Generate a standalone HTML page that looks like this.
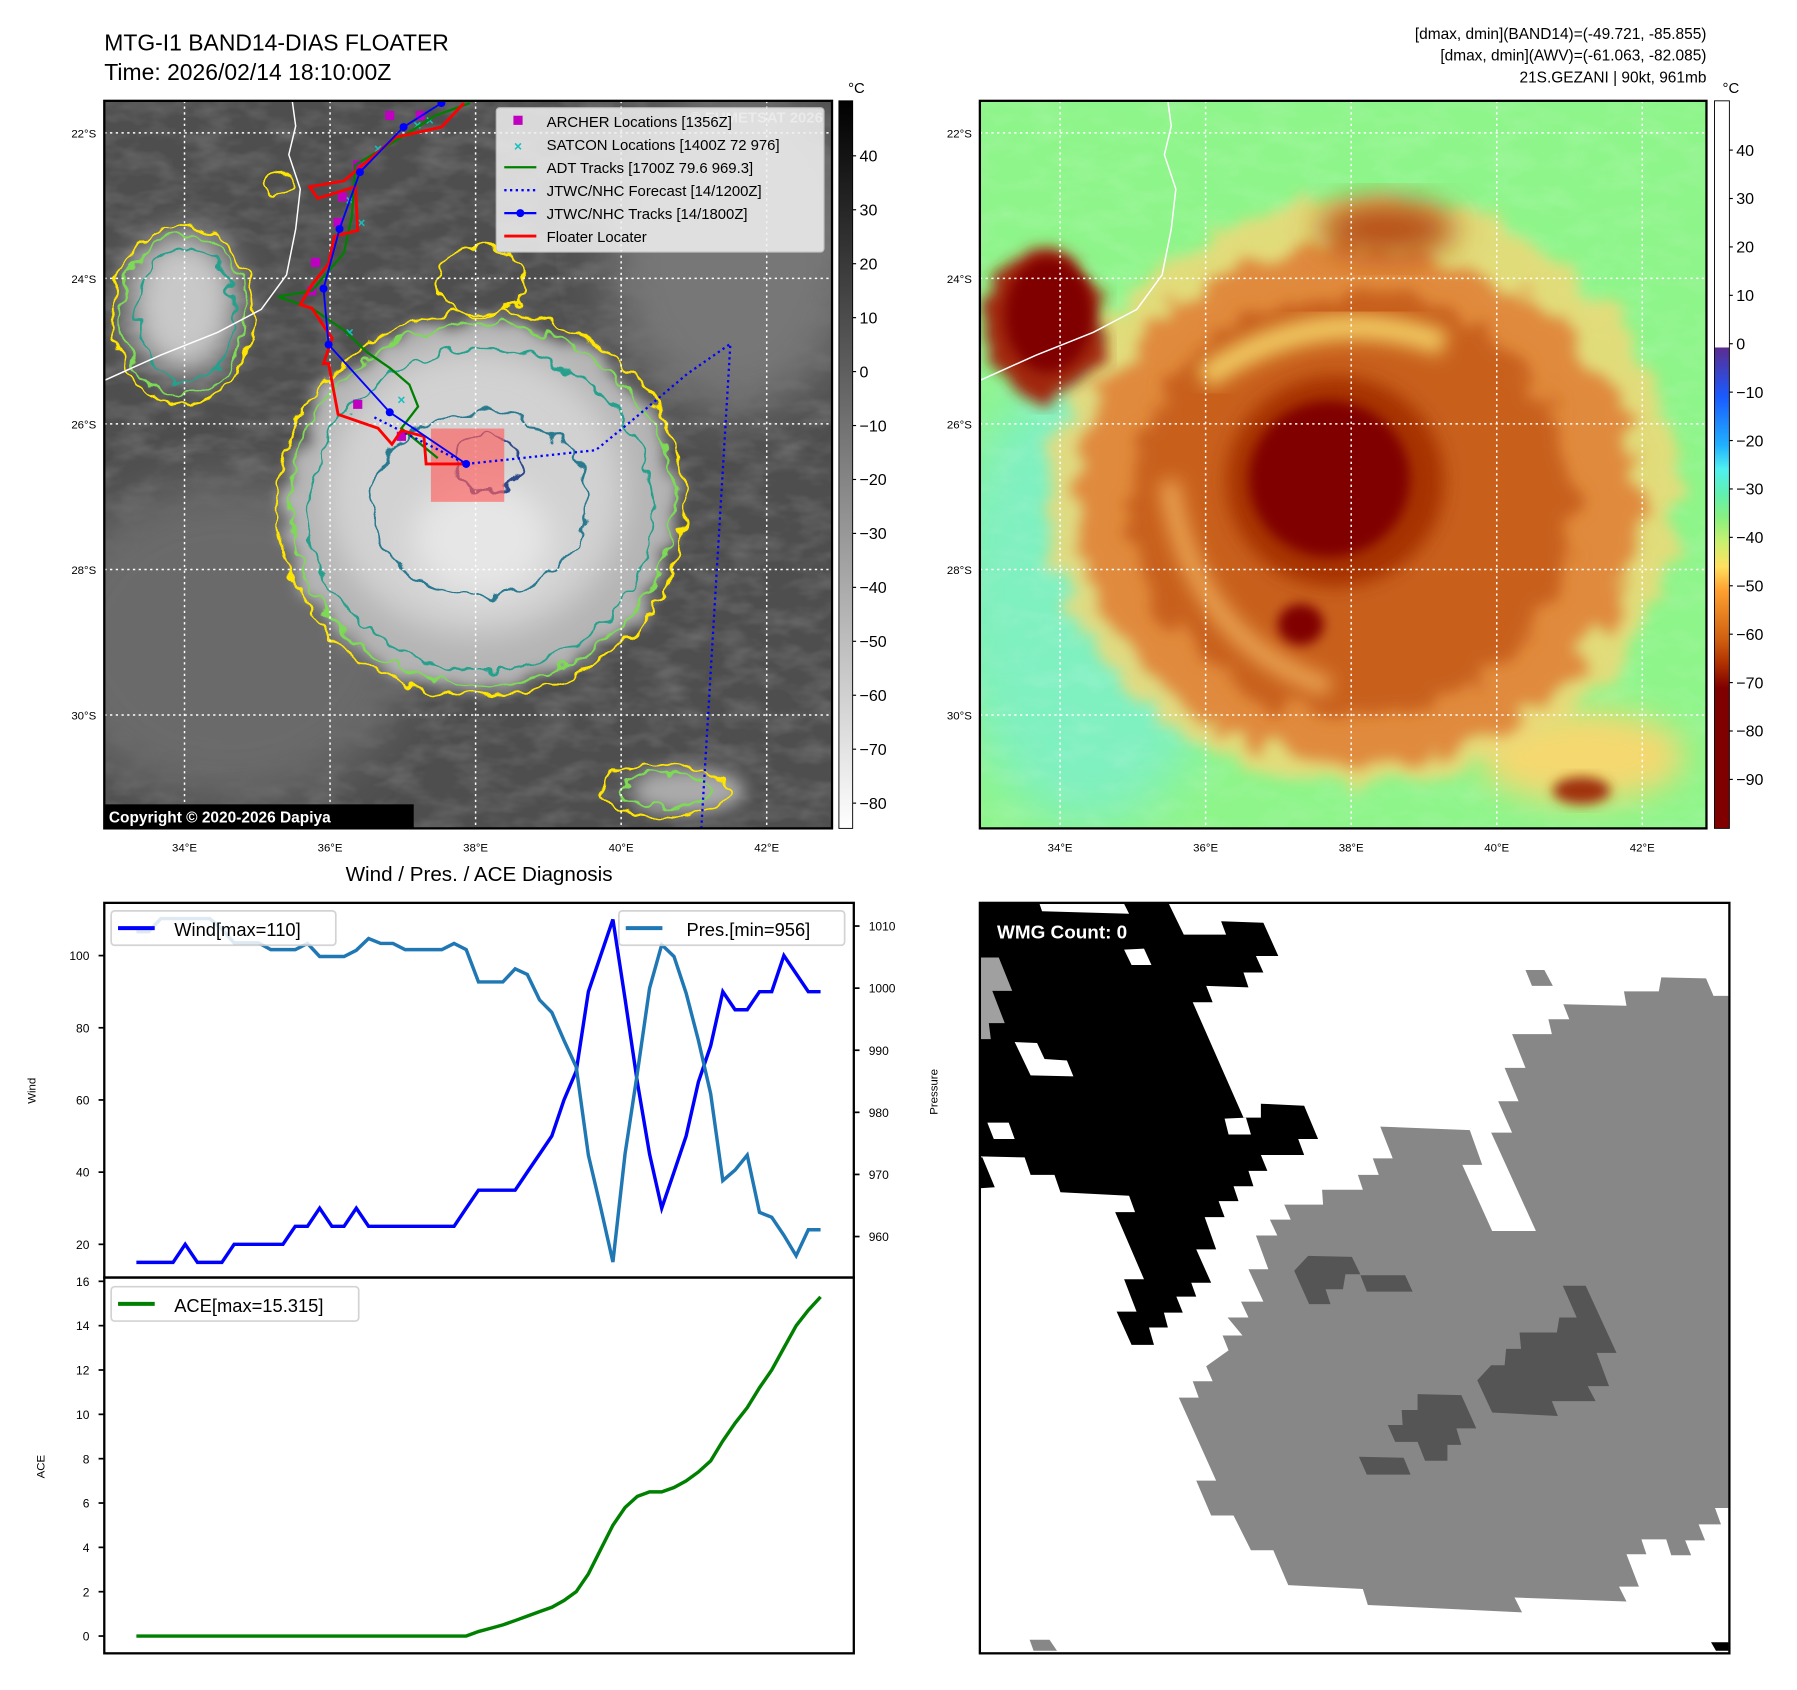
<!DOCTYPE html>
<html><head><meta charset="utf-8"><title>MTG-I1 BAND14 floater, Gezani</title>
<style>
html,body{margin:0;padding:0;background:#fff;}
svg{display:block;font-family:"Liberation Sans","DejaVu Sans",sans-serif;}
</style></head>
<body>
<svg id="root" width="1797" height="1690" viewBox="0 0 1568 1475" preserveAspectRatio="none" xmlns="http://www.w3.org/2000/svg">
<defs>
  <filter id="blur5" x="-30%" y="-30%" width="160%" height="160%"><feGaussianBlur stdDeviation="5"/></filter>
  <filter id="blur8" x="-30%" y="-30%" width="160%" height="160%"><feGaussianBlur stdDeviation="8"/></filter>
  <filter id="blur14" x="-30%" y="-30%" width="160%" height="160%"><feGaussianBlur stdDeviation="14"/></filter>
  <filter id="blur22" x="-40%" y="-40%" width="180%" height="180%"><feGaussianBlur stdDeviation="22"/></filter>
  <filter id="wobble" x="-10%" y="-10%" width="120%" height="120%">
    <feTurbulence type="fractalNoise" baseFrequency="0.06" numOctaves="2" seed="3" result="n"/>
    <feDisplacementMap in="SourceGraphic" in2="n" scale="18" xChannelSelector="R" yChannelSelector="G"/>
  </filter>
  <filter id="rough" x="-10%" y="-10%" width="120%" height="120%">
    <feTurbulence type="fractalNoise" baseFrequency="0.04" numOctaves="3" seed="11" result="n"/>
    <feDisplacementMap in="SourceGraphic" in2="n" scale="40" xChannelSelector="R" yChannelSelector="G" result="d"/>
    <feGaussianBlur in="d" stdDeviation="6"/>
  </filter>
  <filter id="tex" x="0" y="0" width="100%" height="100%">
    <feTurbulence type="fractalNoise" baseFrequency="0.03 0.06" numOctaves="3" seed="7"/>
    <feColorMatrix type="matrix" values="0 0 0 0 1  0 0 0 0 1  0 0 0 0 1  0.9 0 0 0 -0.35"/>
  </filter>
  <linearGradient id="cbGray" x1="0" y1="0" x2="0" y2="1">
    <stop offset="0" stop-color="#000"/><stop offset="1" stop-color="#fff"/>
  </linearGradient>
  <linearGradient id="cbJet" x1="0" y1="0" x2="0" y2="1">
    <stop offset="0" stop-color="#fff"/><stop offset="0.338" stop-color="#fff"/>
    <stop offset="0.34" stop-color="#5a2d91"/><stop offset="0.406" stop-color="#1a5aff"/>
    <stop offset="0.473" stop-color="#20b0ff"/><stop offset="0.506" stop-color="#50f0f0"/>
    <stop offset="0.54" stop-color="#60f0b0"/><stop offset="0.573" stop-color="#88f080"/>
    <stop offset="0.606" stop-color="#c8f070"/><stop offset="0.64" stop-color="#ffe060"/>
    <stop offset="0.673" stop-color="#ffa030"/><stop offset="0.74" stop-color="#d06010"/>
    <stop offset="0.773" stop-color="#b03000"/><stop offset="0.807" stop-color="#800000"/>
    <stop offset="1" stop-color="#800000"/>
  </linearGradient>
  <clipPath id="clipL"><rect x="91" y="88" width="635" height="635"/></clipPath>
  <clipPath id="clipR"><rect x="855" y="88" width="634" height="635"/></clipPath>
</defs>

<!-- Titles -->
<text x="91" y="44" font-size="20">MTG-I1 BAND14-DIAS FLOATER</text>
<text x="91" y="70" font-size="20">Time: 2026/02/14 18:10:00Z</text>
<g font-size="13.5" text-anchor="end">
  <text x="1489" y="34">[dmax, dmin](BAND14)=(-49.721, -85.855)</text>
  <text x="1489" y="53">[dmax, dmin](AWV)=(-61.063, -82.085)</text>
  <text x="1489" y="72">21S.GEZANI | 90kt, 961mb</text>
</g>

<!-- LEFT MAP -->
<g id="mapL">
  <g clip-path="url(#clipL)">
    <rect x="91" y="88" width="635" height="635" fill="#4e4e4e"/>
    <rect x="91" y="88" width="635" height="635" filter="url(#tex)" opacity="0.35"/>
    <ellipse cx="200" cy="560" rx="160" ry="140" fill="#6a6a6a" filter="url(#blur22)"/>
    <ellipse cx="640" cy="220" rx="110" ry="140" fill="#777" filter="url(#blur22)"/>
    <ellipse cx="420" cy="440" rx="170" ry="160" fill="#b4b4b4" filter="url(#rough)"/>
    <ellipse cx="415" cy="430" rx="130" ry="125" fill="#d2d2d2" filter="url(#blur14)"/>
    <ellipse cx="420" cy="470" rx="60" ry="50" fill="#e6e6e6" filter="url(#blur14)"/>
    <ellipse cx="160" cy="265" rx="48" ry="62" fill="#c8c8c8" filter="url(#blur14)"/>
    <ellipse cx="600" cy="690" rx="50" ry="20" fill="#aaa" filter="url(#blur8)"/>
    <g fill="none" stroke-width="2" filter="url(#wobble)">
      <ellipse cx="420" cy="440" rx="178" ry="168" stroke="#ffe600"/>
      <ellipse cx="420" cy="440" rx="168" ry="158" stroke="#7ed957"/>
      <ellipse cx="420" cy="445" rx="150" ry="140" stroke="#25a08c"/>
      <ellipse cx="418" cy="440" rx="95" ry="80" stroke="#2a7a8f"/>
      <ellipse cx="425" cy="405" rx="28" ry="26" stroke="#2e4a8a"/>
      <ellipse cx="160" cy="275" rx="62" ry="78" stroke="#ffe600"/>
      <ellipse cx="160" cy="275" rx="55" ry="70" stroke="#7ed957"/>
      <ellipse cx="162" cy="275" rx="42" ry="58" stroke="#25a08c"/>
      <ellipse cx="420" cy="245" rx="40" ry="30" stroke="#ffe600"/>
      <ellipse cx="580" cy="690" rx="55" ry="22" stroke="#ffe600"/>
      <ellipse cx="580" cy="690" rx="40" ry="14" stroke="#7ed957"/>
      <ellipse cx="244" cy="160" rx="12" ry="10" stroke="#ffe600"/>
    </g>
    <path d="M255,88 L258,110 L252,135 L262,165 L258,200 L250,240 L228,270 L190,290 L140,310 L91,332" fill="none" stroke="#fff" stroke-width="1.3"/>
    <g id="gridL"></g>
    <rect x="376" y="374" width="64" height="64" fill="#ff6060" opacity="0.65"/>
    <g id="tracks"></g>
    <text x="718" y="107" font-size="13" font-weight="bold" fill="#fff" opacity="0.6" text-anchor="end">© EUMETSAT 2026</text>
    <rect x="91" y="702" width="270" height="21" fill="#000"/>
    <text x="95" y="718" font-size="13.5" font-weight="bold" fill="#fff">Copyright © 2020-2026 Dapiya</text>
  </g>
  <rect x="91" y="88" width="635" height="635" fill="none" stroke="#000" stroke-width="2"/>
  <g>
    <rect x="433" y="94" width="286" height="126" fill="#f2f2f2" opacity="0.85" stroke="#ccc" rx="3"/>
    <g font-size="13">
      <rect x="448" y="101" width="8" height="8" fill="#c000c0"/><text x="477" y="111">ARCHER Locations [1356Z]</text>
      <text x="452" y="132" fill="#17bfbf" font-weight="bold" text-anchor="middle" font-size="12">×</text><text x="477" y="131">SATCON Locations [1400Z 72 976]</text>
      <line x1="440" y1="146" x2="468" y2="146" stroke="green" stroke-width="2"/><text x="477" y="151">ADT Tracks [1700Z 79.6 969.3]</text>
      <line x1="440" y1="166" x2="468" y2="166" stroke="blue" stroke-width="2" stroke-dasharray="2,3"/><text x="477" y="171">JTWC/NHC Forecast [14/1200Z]</text>
      <line x1="440" y1="186" x2="468" y2="186" stroke="blue" stroke-width="2"/><circle cx="454" cy="186" r="3.5" fill="blue"/><text x="477" y="191">JTWC/NHC Tracks [14/1800Z]</text>
      <line x1="440" y1="206" x2="468" y2="206" stroke="red" stroke-width="2.5"/><text x="477" y="211">Floater Locater</text>
    </g>
  </g>
  <g id="labelsL" font-size="10"></g>
  <rect x="732" y="88" width="12" height="635" fill="url(#cbGray)" stroke="#000" stroke-width="0.8"/>
  <text x="740" y="81" font-size="13">°C</text>
  <g id="cbTicksL" font-size="14"></g>
</g>

<!-- RIGHT MAP -->
<g id="mapR">
  <g clip-path="url(#clipR)">
    <rect x="855" y="88" width="634" height="635" fill="#8ef58a"/>
    <ellipse cx="950" cy="520" rx="120" ry="200" fill="#7ff0c0" filter="url(#blur22)"/>
    <rect x="855" y="88" width="634" height="635" filter="url(#tex)" opacity="0.25"/>
    <ellipse cx="1380" cy="660" rx="90" ry="40" fill="#f5d870" filter="url(#blur14)"/>
    <ellipse cx="1190" cy="430" rx="275" ry="255" fill="#f0d878" opacity="0.85" filter="url(#rough)"/>
    <ellipse cx="1185" cy="440" rx="245" ry="225" fill="#e08a3c" filter="url(#rough)"/>
    <ellipse cx="1180" cy="440" rx="195" ry="185" fill="#c8601a" filter="url(#rough)"/>
    <path d="M1050,330 Q1150,260 1260,300" fill="none" stroke="#f0c860" stroke-width="22" filter="url(#blur8)"/>
    <path d="M1020,420 Q1040,560 1160,600" fill="none" stroke="#e8a050" stroke-width="18" filter="url(#blur8)"/>
    <ellipse cx="1165" cy="420" rx="95" ry="92" fill="#a63006" filter="url(#blur8)"/>
    <ellipse cx="1160" cy="418" rx="70" ry="68" fill="#800000" filter="url(#blur5)"/>
    <ellipse cx="1135" cy="545" rx="20" ry="18" fill="#800000" filter="url(#blur5)"/>
    <ellipse cx="912" cy="280" rx="52" ry="68" fill="#a02808" filter="url(#rough)"/>
    <ellipse cx="915" cy="275" rx="38" ry="50" fill="#800000" filter="url(#blur5)"/>
    <ellipse cx="1210" cy="200" rx="60" ry="25" fill="#b85018" filter="url(#blur14)"/>
    <ellipse cx="1380" cy="690" rx="25" ry="12" fill="#a03008" filter="url(#blur5)"/>
    <path d="M1019,88 L1022,110 L1016,135 L1026,165 L1022,200 L1014,240 L992,270 L954,290 L904,310 L855,332" fill="none" stroke="#fff" stroke-width="1.3"/>
    <g id="gridR"></g>
  </g>
  <rect x="855" y="88" width="634" height="635" fill="none" stroke="#000" stroke-width="2"/>
  <g id="labelsR" font-size="10"></g>
  <rect x="1496" y="88" width="13" height="635" fill="url(#cbJet)" stroke="#000" stroke-width="0.8"/>
  <text x="1503" y="81" font-size="13">°C</text>
  <g id="cbTicksR" font-size="14"></g>
</g>

<!-- BOTTOM LEFT CHART -->
<g id="diag">
  <text x="418" y="769" font-size="18" text-anchor="middle">Wind / Pres. / ACE Diagnosis</text>
  <g id="diagPlot"></g>
  <rect x="91" y="788" width="654" height="327" fill="none" stroke="#000" stroke-width="2"/>
  <rect x="91" y="1115" width="654" height="328" fill="none" stroke="#000" stroke-width="2"/>
  <text transform="translate(31,952) rotate(-90)" font-size="10" text-anchor="middle">Wind</text>
  <text transform="translate(818,953) rotate(-90)" font-size="10" text-anchor="middle">Pressure</text>
  <text transform="translate(39,1280) rotate(-90)" font-size="10" text-anchor="middle">ACE</text>
  <g>
    <rect x="97" y="795" width="196" height="30" fill="#fff" opacity="0.85" stroke="#ccc" stroke-width="1.5" rx="3"/>
    <line x1="103" y1="810" x2="135" y2="810" stroke="blue" stroke-width="3.5"/>
    <text x="152" y="817" font-size="16">Wind[max=110]</text>
  </g>
  <g>
    <rect x="540" y="795" width="197" height="30" fill="#fff" opacity="0.85" stroke="#ccc" stroke-width="1.5" rx="3"/>
    <line x1="546" y1="810" x2="578" y2="810" stroke="#1f77b4" stroke-width="3.5"/>
    <text x="599" y="817" font-size="16">Pres.[min=956]</text>
  </g>
  <g>
    <rect x="97" y="1123" width="216" height="30" fill="#fff" opacity="0.85" stroke="#ccc" stroke-width="1.5" rx="3"/>
    <line x1="103" y1="1138" x2="135" y2="1138" stroke="green" stroke-width="3.5"/>
    <text x="152" y="1145" font-size="16">ACE[max=15.315]</text>
  </g>
</g>

<!-- BOTTOM RIGHT WMG -->
<g>
  <rect x="855" y="788" width="654" height="655" fill="#fff"/>
  <g transform="translate(855,784.5) scale(0.434)">
    <polygon fill="#000" points="0,10 120,10 125,25 300,30 290,10 380,10 410,72 495,72 485,45 570,48 600,115 555,115 570,148 530,148 540,178 455,175 468,208 428,208 530,440 565,440 565,412 652,416 680,483 640,483 652,515 565,515 578,547 540,547 550,578 510,578 520,608 480,608 492,640 452,640 475,705 435,705 465,772 425,772 435,800 395,800 408,832 370,832 378,862 340,862 350,897 305,897 275,830 315,830 290,765 330,765 272,630 312,630 300,597 162,590 150,555 102,555 90,520 0,518"/>
    <polygon fill="#000" points="0,520 5,520 30,580 0,582"/>
    <g fill="#fff">
      <polygon points="70,288 115,290 130,322 175,325 188,357 102,355"/>
      <polygon points="15,450 58,450 70,483 28,483"/>
      <polygon points="290,102 330,100 345,133 305,133"/>
      <polygon points="492,442 535,440 545,474 500,474"/>
    </g>
    <polygon fill="#a0a0a0" points="0,118 38,118 65,185 25,185 50,250 18,250 22,282 0,282"/>
    <polygon fill="#878787" points="1070,272 1150,272 1143,242 1185,242 1173,212 1300,215 1295,186 1365,186 1370,158 1460,160 1475,195 1505,195 1505,1225 1478,1225 1490,1258 1445,1258 1458,1290 1418,1290 1430,1320 1390,1320 1380,1288 1330,1288 1340,1318 1300,1318 1325,1383 1285,1383 1300,1413 1075,1405 1090,1435 780,1420 770,1388 620,1380 590,1310 545,1310 510,1240 465,1240 435,1170 475,1170 400,1003 440,1003 428,970 468,970 455,940 500,908 488,878 528,878 498,842 540,842 525,810 570,810 540,745 580,745 555,677 598,677 583,645 625,645 612,615 690,615 688,585 770,585 760,555 802,555 790,522 830,522 805,458 985,465 1010,535 970,535 1030,668 1118,668 1028,470 1070,470 1042,407 1083,407 1055,340 1097,340"/>
    <polygon fill="#878787" points="1097,143 1135,143 1152,175 1110,175"/>
    <polygon fill="#878787" points="100,1490 140,1490 155,1512 108,1512"/>
    <g fill="#555">
      <polygon points="632,748 660,718 748,720 765,755 735,755 730,785 695,785 705,815 662,815"/>
      <polygon points="765,757 855,757 870,790 778,790"/>
      <polygon points="1000,968 1028,938 1055,938 1058,905 1088,905 1085,872 1160,872 1165,842 1200,842 1172,778 1218,778 1280,913 1240,913 1265,980 1222,980 1238,1010 1150,1010 1162,1040 1030,1033"/>
      <polygon points="820,1058 850,1058 848,1028 880,1028 880,996 968,998 998,1065 958,1065 968,1098 940,1098 940,1130 895,1130 880,1092 835,1092"/>
      <polygon points="762,1122 852,1124 866,1158 778,1158"/>
    </g>
    <polygon fill="#000" points="1470,1495 1505,1495 1505,1512 1480,1512"/>
  </g>
  <rect x="855" y="788" width="654" height="655" fill="none" stroke="#000" stroke-width="2"/>
  <text x="870" y="819" font-size="16.5" font-weight="bold" fill="#fff">WMG Count: 0</text>
</g>
</svg>

<script>
// ---------- Diagnosis chart data ----------
const windValues = [15,15,15,15,20,15,15,15,20,20,20,20,20,25,25,30,25,25,30,25,25,25,25,25,25,25,25,30,35,35,35,35,40,45,50,60,68,90,100,110,88,65,45,30,40,50,65,75,90,85,85,90,90,100,95,90,90];
const presValues = [1009.1,1009.1,1011.2,1011.2,1011.2,1011.2,1011.2,1009.5,1007.3,1007.3,1007.3,1006.2,1006.2,1006.2,1007.2,1005.1,1005.1,1005.1,1006.1,1008,1007.2,1007.2,1006.2,1006.2,1006.2,1006.2,1007.2,1006.2,1001,1001,1001,1003.1,1002.2,998.1,996.1,991.6,987.3,973.1,964.7,955.9,973.3,986.3,1000,1007,1005.1,999.2,991.6,983,969,970.7,973.1,963.9,963.1,960.2,956.9,961.1,961.1];
const aceValues = [0,0,0,0,0,0,0,0,0,0,0,0,0,0,0,0,0,0,0,0,0,0,0,0,0,0,0,0,0.2,0.35,0.5,0.7,0.9,1.1,1.3,1.6,2.0,2.8,3.9,5.0,5.8,6.3,6.5,6.5,6.7,7.0,7.4,7.9,8.8,9.6,10.3,11.2,12.0,13.0,14.0,14.7,15.3];
const windTicks = [20,40,60,80,100];
const presTicks = [960,970,980,990,1000,1010];
const aceTicks = [0,2,4,6,8,10,12,14,16];

// ---------- Map data (lon/lat) ----------
const lonTicks = [34,36,38,40,42];
const latTicks = [22,24,26,28,30];
const irCbTicks = [40,30,20,10,0,-10,-20,-30,-40,-50,-60,-70,-80];
const awvCbTicks = [40,30,20,10,0,-10,-20,-30,-40,-50,-60,-70,-80,-90];
const jtwcTrackLon = [37.53,37.01,36.41,36.13,35.91,35.98,36.82,37.87];
const jtwcTrackLat = [-21.59,-21.92,-22.54,-23.32,-24.14,-24.91,-25.84,-26.55];
const floaterLon = [37.84,37.53,36.90,36.19,35.72,35.83,36.35,36.38,36.06,35.98,35.75,35.59,35.75,35.95,36.03,35.91,35.98,36.11,36.66,36.85,36.98,37.29,37.32,37.87];
const floaterLat = [-21.59,-21.92,-22.06,-22.66,-22.74,-22.90,-22.74,-23.34,-23.42,-23.80,-24.09,-24.36,-24.41,-24.71,-24.82,-25.17,-25.17,-25.87,-26.06,-26.28,-26.09,-26.17,-26.55,-26.55];
const adtLon = [37.92,37.45,36.98,36.35,36.30,36.19,35.75,35.28,35.75,36.19,36.50,36.82,37.09,37.21,36.98,37.48];
const adtLat = [-21.59,-21.76,-22.06,-22.44,-23.15,-23.65,-24.17,-24.25,-24.41,-24.71,-25.01,-25.23,-25.46,-25.76,-26.06,-26.47];
const forecastLon = [36.61,37.87,38.16,39.65,40.20,40.91,41.50,41.10];
const forecastLat = [-25.91,-26.55,-26.52,-26.36,-25.91,-25.31,-24.90,-31.57];
const archerLon = [36.82,37.24,36.38,36.17,36.11,35.80,35.75,36.38,36.98];
const archerLat = [-21.76,-21.76,-22.44,-22.88,-23.23,-23.78,-24.17,-25.73,-26.17];
const satconLon = [37.37,36.66,36.27,36.43,36.27,36.98,37.2];
const satconLat = [-21.83,-22.22,-22.93,-23.24,-24.74,-25.67,-21.9];

const NS = 'http://www.w3.org/2000/svg';
function mk(tag, attrs, parent){
  const e = document.createElementNS(NS, tag);
  for (const k in attrs) e.setAttribute(k, attrs[k]);
  if (parent) parent.appendChild(e);
  return e;
}

const N = windValues.length;
const xIdx = i => 119 + i * (716 - 119) / (N - 1);
const yWind = v => 1115 - (v - 10.8) * 3.15;
const yPres = v => 1115 - (v - 953.4) * 5.42;
const yAce = v => 1443 - (v + 0.78) * 19.35;

const plot = document.getElementById('diagPlot');
function series(vals, yf, color, w, name){
  const d = vals.map((v,i)=>(i?'L':'M')+xIdx(i).toFixed(1)+','+yf(v).toFixed(1)).join(' ');
  const p = mk('path', {d:d, fill:'none', stroke:color, 'stroke-width':w, 'stroke-linejoin':'miter'}, plot);
  
  
}
series(windValues, yWind, 'blue', 3, 'wind-line');
series(presValues, yPres, '#1f77b4', 3, 'pressure-line');
series(aceValues, yAce, 'green', 3, 'ace-line');

function ticks(list, yf, x, side, name){
  const g = mk('g', {'font-size':'10.5'}, plot);
  
  
  list.forEach(v=>{
    const y = yf(v);
    if (side==='left'){
      mk('line',{x1:x-5,y1:y,x2:x,y2:y,stroke:'#000','stroke-width':1.5},g);
      const t = mk('text',{x:x-13,y:y+4,'text-anchor':'end'},g); t.textContent = v;
    } else {
      mk('line',{x1:x,y1:y,x2:x+5,y2:y,stroke:'#000','stroke-width':1.5},g);
      const t = mk('text',{x:x+13,y:y+4},g); t.textContent = v;
    }
  });
}
ticks(windTicks, yWind, 91, 'left', 'wind-y-ticks');
ticks(presTicks, yPres, 745, 'right', 'pressure-y-ticks');
ticks(aceTicks, yAce, 91, 'left', 'ace-y-ticks');

const mapXL = lon => 161 + (lon - 34) * 63.5;
const mapXR = lon => 925 + (lon - 34) * 63.5;
const mapY = lat => 116 + (-22 - lat) * 63.5;

function grid(id, x0, x1, xf){
  const g = document.getElementById(id);
  lonTicks.forEach(l=>mk('line',{x1:xf(l),y1:88,x2:xf(l),y2:723,stroke:'#fff','stroke-width':1.3,'stroke-dasharray':'2,3'},g));
  latTicks.forEach(l=>mk('line',{x1:x0,y1:mapY(-l),x2:x1,y2:mapY(-l),stroke:'#fff','stroke-width':1.3,'stroke-dasharray':'2,3'},g));
}
grid('gridL', 91, 726, mapXL);
grid('gridR', 855, 1489, mapXR);

function labels(id, xf, lx){
  const g = document.getElementById(id);
  lonTicks.forEach(l=>{ const t = mk('text',{x:xf(l),y:743,'text-anchor':'middle'},g); t.textContent = l+'°E'; });
  latTicks.forEach(l=>{ const t = mk('text',{x:lx,y:mapY(-l)+4,'text-anchor':'end'},g); t.textContent = l+'°S'; });
}
labels('labelsL', mapXL, 84);
labels('labelsR', mapXR, 848);

function cbTicks(id, list, yf, x){
  const g = document.getElementById(id);
  list.forEach(v=>{
    const y = yf(v);
    mk('line',{x1:x,y1:y,x2:x+3,y2:y,stroke:'#000','stroke-width':1},g);
    const t = mk('text',{x:x+6,y:y+5},g); t.textContent = v<0 ? '\u2212'+Math.abs(v) : v;
  });
}
cbTicks('cbTicksL', irCbTicks, v => 136 + (40 - v) * 4.708, 744);
cbTicks('cbTicksR', awvCbTicks, v => 131 + (40 - v) * 4.225, 1509);

const tr = document.getElementById('tracks');
function poly(lons, lats, attrs, name){
  const d = lons.map((l,i)=>(i?'L':'M')+mapXL(l).toFixed(1)+','+mapY(lats[i]).toFixed(1)).join(' ');
  attrs.d = d; attrs.fill = 'none';
  const p = mk('path', attrs, tr);
  
  
}
archerLon.forEach((l,i)=>{
  const r = mk('rect',{x:mapXL(l)-4,y:mapY(archerLat[i])-4,width:8,height:8,fill:'#c000c0'},tr);
  
  
});
satconLon.forEach((l,i)=>{
  const t = mk('text',{x:mapXL(l),y:mapY(satconLat[i])+4,fill:'#17bfbf','font-size':'12','font-weight':'bold','text-anchor':'middle'},tr);
  t.textContent = '×';
  
  
});
poly(adtLon, adtLat, {stroke:'green','stroke-width':2}, 'adt-track');
poly(forecastLon, forecastLat, {stroke:'blue','stroke-width':2,'stroke-dasharray':'2,3'}, 'jtwc-forecast');
poly(floaterLon, floaterLat, {stroke:'red','stroke-width':2.5}, 'floater-track');
poly(jtwcTrackLon, jtwcTrackLat, {stroke:'blue','stroke-width':1.6}, 'jtwc-track');
jtwcTrackLon.forEach((l,i)=>{
  const c = mk('circle',{cx:mapXL(l),cy:mapY(jtwcTrackLat[i]),r:3.5,fill:'blue'},tr);
  
  
});
</script>
</body></html>
